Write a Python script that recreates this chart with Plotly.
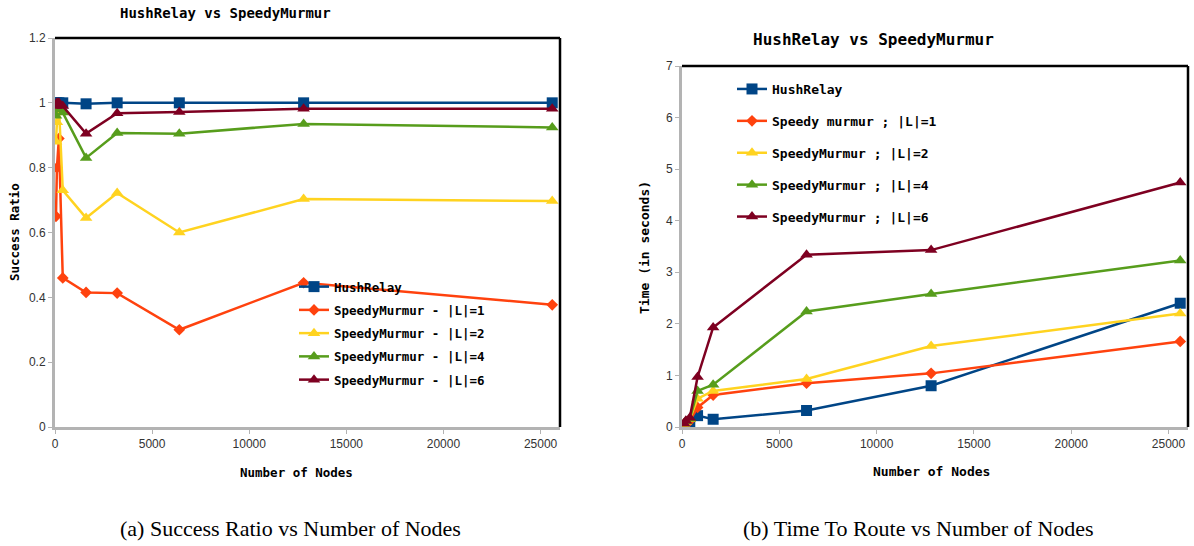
import plotly.graph_objects as go

# ---------------- data ----------------
nodes_a = [50, 100, 200, 400, 1600, 3200, 6400, 12800, 25600]
sr_hush = [1.0, 1.0, 1.0, 1.0, 0.997, 1.0, 1.0, 1.0, 1.0]
sr_l1 = [0.65, 0.80, 0.89, 0.46, 0.415, 0.413, 0.30, 0.445, 0.377]
sr_l2 = [0.88, 0.94, 0.99, 0.73, 0.645, 0.722, 0.60, 0.703, 0.697]
sr_l4 = [0.96, 0.98, 0.99, 0.97, 0.83, 0.907, 0.905, 0.935, 0.924]
sr_l6 = [0.99, 1.0, 1.0, 0.99, 0.905, 0.968, 0.972, 0.982, 0.982]

nodes_b = [100, 200, 400, 800, 1600, 6400, 12800, 25600]
t_hush = [0.01, 0.01, 0.02, 0.22, 0.15, 0.32, 0.80, 2.40]
t_l1 = [0.05, 0.08, 0.12, 0.38, 0.62, 0.85, 1.04, 1.66]
t_l2 = [0.06, 0.10, 0.15, 0.55, 0.70, 0.93, 1.57, 2.20]
t_l4 = [0.07, 0.11, 0.16, 0.70, 0.82, 2.24, 2.58, 3.23]
t_l6 = [0.07, 0.12, 0.18, 0.97, 1.93, 3.34, 3.43, 4.74]

names_a = ["HushRelay", "SpeedyMurmur - |L|=1", "SpeedyMurmur - |L|=2",
           "SpeedyMurmur - |L|=4", "SpeedyMurmur - |L|=6"]
names_b = ["HushRelay", "Speedy murmur ; |L|=1", "SpeedyMurmur ; |L|=2",
           "SpeedyMurmur ; |L|=4", "SpeedyMurmur ; |L|=6"]
colors = ["#004586", "#ff420e", "#ffd320", "#579d1c", "#7e0021"]
symbols = ["square", "diamond", "triangle-up", "triangle-up", "triangle-up"]
msizes = [11, 9, 11, 11, 11]

series_a = [sr_hush, sr_l1, sr_l2, sr_l4, sr_l6]
series_b = [t_hush, t_l1, t_l2, t_l4, t_l6]

MONO = "DejaVu Sans Mono"
fig = go.Figure()

for i, (nm, ys) in enumerate(zip(names_a, series_a)):
    fig.add_trace(go.Scatter(
        x=nodes_a, y=ys, name=nm, mode="lines+markers",
        line=dict(color=colors[i], width=2.5),
        marker=dict(symbol=symbols[i], size=msizes[i], color=colors[i]),
        xaxis="x", yaxis="y", legend="legend", legendgroup="a%d" % i))

for i, (nm, ys) in enumerate(zip(names_b, series_b)):
    fig.add_trace(go.Scatter(
        x=nodes_b, y=ys, name=nm, mode="lines+markers",
        line=dict(color=colors[i], width=2.5),
        marker=dict(symbol=symbols[i], size=msizes[i], color=colors[i]),
        xaxis="x2", yaxis="y2", legend="legend2", legendgroup="b%d" % i))

W, H = 1194, 546
def fx(px): return min(max(px / W, 0.0), 1.0)
def fy(py): return min(max(1 - py / H, 0.0), 1.0)

axis_common = dict(
    showline=True, linecolor="#b3b3b3", linewidth=3, showgrid=False,
    zeroline=False, ticks="outside", ticklen=4, tickcolor="#b3b3b3",
    automargin=False,
    tickfont=dict(family="Liberation Sans", size=12, color="#333333"),
)

fig.update_layout(
    width=W, height=H, margin=dict(l=0, r=0, t=0, b=0, autoexpand=False),
    paper_bgcolor="white", plot_bgcolor="white",
    xaxis=dict(domain=[fx(55), fx(560)], range=[0, 26000], dtick=5000,
               tickformat="d", anchor="y", **axis_common),
    yaxis=dict(domain=[fy(427), fy(38)], range=[0, 1.2], dtick=0.2,
               anchor="x", **axis_common),
    xaxis2=dict(domain=[fx(682), fx(1188)], range=[0, 26000], dtick=5000,
                tickformat="d", anchor="y2", **axis_common),
    yaxis2=dict(domain=[fy(427), fy(66)], range=[0, 7], dtick=1,
                anchor="x2", **axis_common),
    legend=dict(x=fx(294), y=fy(272), xanchor="left", yanchor="top",
                bgcolor="rgba(0,0,0,0)", tracegroupgap=4,
                font=dict(family=MONO, size=12.5, color="black", weight="bold")),
    legend2=dict(x=fx(732), y=fy(74), xanchor="left", yanchor="top",
                 bgcolor="rgba(0,0,0,0)", tracegroupgap=12,
                 font=dict(family=MONO, size=13, color="black", weight="bold")),
    showlegend=True,
    hovermode=False,
)

# frame: top and right black border
for xr, yr in [("x domain", "y domain"), ("x2 domain", "y2 domain")]:
    fig.add_shape(type="line", xref=xr, yref=yr, x0=0, x1=1, y0=1, y1=1,
                  line=dict(color="black", width=2.5))
    fig.add_shape(type="line", xref=xr, yref=yr, x0=1, x1=1, y0=0, y1=1,
                  line=dict(color="black", width=2.5))

def txt(x, y, s, size=13, family=MONO, bold=True, angle=0, color="black"):
    fig.add_annotation(x=fx(x), y=fy(y), xref="paper", yref="paper", text=s,
                       showarrow=False, textangle=angle,
                       xanchor="center", yanchor="middle",
                       font=dict(family=family, size=size, color=color,
                                 weight="bold" if bold else "normal"))

txt(225, 13, "HushRelay vs SpeedyMurmur", size=14)
txt(873, 40, "HushRelay vs SpeedyMurmur", size=16)
txt(14, 232, "Success Ratio", size=12.5, angle=-90)
txt(645, 247, "Time (in seconds)", size=13, angle=-90)
txt(296, 472, "Number of Nodes", size=12.5)
txt(931, 471, "Number of Nodes", size=13)
txt(290, 528, "(a) Success Ratio vs Number of Nodes", size=22,
    family="Liberation Serif", bold=False)
txt(918, 528, "(b) Time To Route vs Number of Nodes", size=22,
    family="Liberation Serif", bold=False)

fig.write_html("out.html", config={"displayModeBar": False},
               post_script="document.body.style.margin='0px';")
